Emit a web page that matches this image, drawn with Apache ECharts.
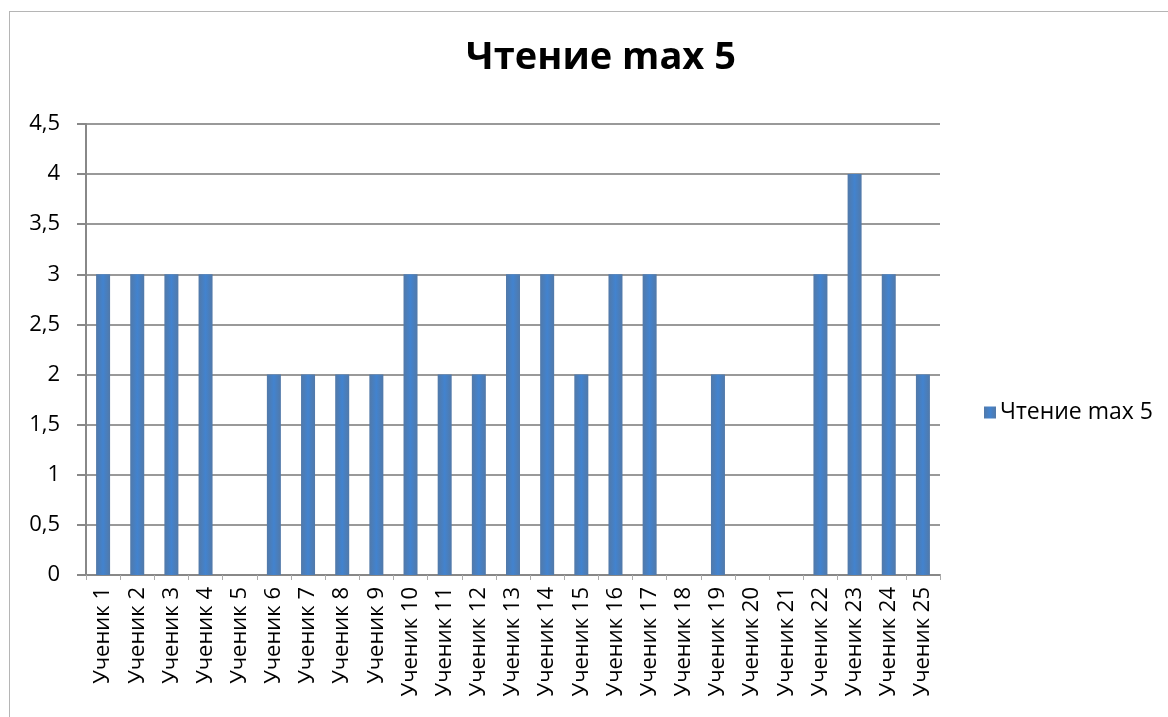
<!DOCTYPE html>
<html>
<head>
<meta charset="utf-8">
<script src="https://cdn.jsdelivr.net/npm/echarts@6/dist/echarts.min.js"></script>
<style>
  html, body { margin: 0; padding: 0; background: #fff; }
  #frame { position: absolute; left: 9px; top: 11px; width: 1170px; height: 720px; border: 1px solid #b5b5b5; box-sizing: border-box; }
  #chart { width: 1168px; height: 717px; position: absolute; left: 0; top: 0; }
</style>
</head>
<body>
<div id="frame"></div>
<div id="chart"></div>
<script>
// ученики и оценки
const students = ['Ученик 1', 'Ученик 2', 'Ученик 3', 'Ученик 4', 'Ученик 5',
  'Ученик 6', 'Ученик 7', 'Ученик 8', 'Ученик 9', 'Ученик 10',
  'Ученик 11', 'Ученик 12', 'Ученик 13', 'Ученик 14', 'Ученик 15',
  'Ученик 16', 'Ученик 17', 'Ученик 18', 'Ученик 19', 'Ученик 20',
  'Ученик 21', 'Ученик 22', 'Ученик 23', 'Ученик 24', 'Ученик 25']
const reading = [3, 3, 3, 3, 0, 2, 2, 2, 2, 3, 2, 2, 3, 3, 2, 3, 3, 0, 2, 0, 0, 3, 4, 3, 2]
const seriesName = 'Чтение max 5'

var myChart = echarts.init(document.getElementById('chart'), null, { renderer: 'canvas' })

const font = '"Open Sans", "Noto Sans", sans-serif'

let option = {
  animation: false,
  title: {
    text: seriesName,
    left: 596,
    top: 34,
    textAlign: 'center',
    textStyle: { fontFamily: font, fontSize: 38, fontWeight: 'bold', color: '#000' }
  },
  legend: {
    data: [seriesName],
    orient: 'vertical',
    left: 979,
    top: 396,
    itemWidth: 12,
    itemHeight: 12,
    itemGap: 5,
    icon: 'rect',
    textStyle: { fontFamily: font, fontSize: 23, color: '#000', padding: [0, 0, 0, -1] }
  },
  grid: {
    left: 86,
    right: 228,
    top: 124,
    bottom: 142,
    containLabel: false
  },
  xAxis: {
    type: 'category',
    data: students,
    axisLine: { lineStyle: { color: '#888', width: 2 } },
    axisTick: { show: true, alignWithLabel: false, length: 5, lineStyle: { color: '#aaa' } },
    axisLabel: {
      rotate: 90,
      interval: 0,
      margin: 12,
      fontFamily: font,
      fontSize: 22,
      color: '#000'
    }
  },
  yAxis: {
    type: 'value',
    min: 0,
    max: 4.5,
    interval: 0.5,
    axisLine: { show: true, lineStyle: { color: '#888', width: 2 } },
    axisTick: { show: true, length: 9, inside: false, lineStyle: { color: '#888', width: 2 } },
    splitLine: { lineStyle: { color: '#999', width: 2 } },
    axisLabel: {
      margin: 26,
      fontFamily: font,
      fontSize: 22,
      color: '#000',
      formatter: v => String(v).replace('.', ',')
    }
  },
  series: [{
    name: seriesName,
    type: 'bar',
    data: reading,
    barWidth: 14,
    itemStyle: {
      color: new echarts.graphic.LinearGradient(0, 0, 1, 0, [
        { offset: 0, color: '#5279a8' },
        { offset: 0.5, color: '#4283cf' },
        { offset: 1, color: '#5279a8' }
      ])
    }
  }]
}
myChart.setOption(option)
</script>
</body>
</html>
